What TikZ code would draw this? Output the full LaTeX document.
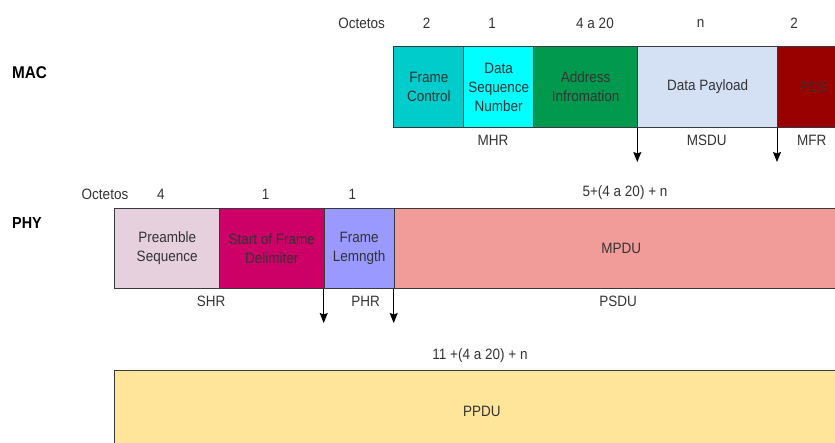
\documentclass[tikz,border=0pt]{standalone}
\usepackage{fontspec}
\setmainfont{Liberation Sans}[FakeStretch=0.9]
\usetikzlibrary{arrows.meta}
\definecolor{txt}{HTML}{333333}
\definecolor{edge}{HTML}{36393D}
\definecolor{cFC}{HTML}{00CCCC}
\definecolor{cDSN}{HTML}{00FFFF}
\definecolor{cADDR}{HTML}{00994D}
\definecolor{cDP}{HTML}{D4E1F5}
\definecolor{cFCS}{HTML}{990000}
\definecolor{cPRE}{HTML}{E6D0DE}
\definecolor{cSFD}{HTML}{CC0066}
\definecolor{cFL}{HTML}{9999FF}
\definecolor{cMPDU}{HTML}{F19C99}
\definecolor{cPPDU}{HTML}{FFE599}
\begin{document}
\begin{tikzpicture}[x=1pt,y=-1pt,
  every node/.style={font=\fontsize{15}{19}\selectfont, text=txt},
  cell/.style={draw=edge, line width=1pt, inner sep=0pt, anchor=north west, align=center},
  lbl/.style={inner sep=0pt, anchor=center},
  layer/.style={inner sep=0pt, anchor=west, text=black},
  arr/.style={line width=1pt, -{Stealth[length=10pt,width=8pt,inset=1.5pt]}}]
\useasboundingbox (0,0) rectangle (835,443);
\clip (0,0) rectangle (835,443);
% MAC layer
\node[layer, font=\fontsize{17}{19}\selectfont\bfseries] (mac) at (12,72.5) {MAC};
\node[lbl] (octm) at (361.7,23.5) {Octetos};
\node[lbl] (n1) at (426.7,23.5) {2};
\node[lbl] (n2) at (492,23.5) {1};
\node[lbl] (n3) at (595,23.5) {4 a 20};
\node[lbl] (n4) at (700.7,23.5) {n};
\node[lbl] (n5) at (794,23.5) {2};
\node[cell, fill=cFC, minimum width=70, minimum height=81] (fc) at (393.3,46) {Frame\\Control};
\node[cell, fill=cDSN, minimum width=69.7, minimum height=81] (dsn) at (463.3,46) {Data\\Sequence\\Number};
\node[cell, fill=cADDR, minimum width=104.3, minimum height=81] (addr) at (533,46) {Address\\Infromation};
\node[cell, fill=cDP, minimum width=139.7, minimum height=81] (dp) at (637.3,46) {Data Payload};
\node[cell, fill=cFCS, minimum width=72, minimum height=81] (fcs) at (777,46) {FCS};
\node[lbl] (mhr) at (493,140) {MHR};
\node[lbl] (msdu) at (706.7,140) {MSDU};
\node[lbl] (mfr) at (811.7,140) {MFR};
\coordinate (am1) at (637.3,162);
\coordinate (am2) at (777,162);
\draw[arr] (dp.south west) -- (am1);
\draw[arr] (fcs.south west) -- (am2);
% PHY layer
\node[layer, font=\fontsize{16}{19}\selectfont\bfseries] (phy) at (12,222.5) {PHY};
\node[lbl] (octp) at (105,194) {Octetos};
\node[lbl] (p1) at (161,194) {4};
\node[lbl] (p2) at (265.7,194) {1};
\node[lbl] (p3) at (352.3,194) {1};
\node[lbl] (p4) at (625,192.7) {5+(4 a 20) + n};
\node[cell, fill=cPRE, minimum width=104.7, minimum height=80.6] (pre) at (114.3,207.7) {Preamble\\Sequence};
\node[cell, fill=cSFD, minimum width=104.7, minimum height=80.6] (sfd) at (219,207.7) {Start of Frame\\Delimiter};
\node[cell, fill=cFL, minimum width=70, minimum height=80.6] (fl) at (323.7,207.7) {Frame\\Lemngth};
\node[cell, fill=cMPDU, minimum width=454.3, minimum height=80.6] (mpdu) at (393.7,207.7) {MPDU};
\node[lbl] (shr) at (211,301.7) {SHR};
\node[lbl] (phr) at (365.7,301.7) {PHR};
\node[lbl] (psdu) at (618,301.7) {PSDU};
\coordinate (ap1) at (323.7,323);
\coordinate (ap2) at (393.7,323);
\draw[arr] (fl.south west) -- (ap1);
\draw[arr] (mpdu.south west) -- (ap2);
% PPDU
\node[lbl] (pp) at (480,355.7) {11 +(4 a 20) + n};
\node[cell, fill=cPPDU, minimum width=734, minimum height=81.4] (ppdu) at (114.3,370) {PPDU};
\end{tikzpicture}
\end{document}
